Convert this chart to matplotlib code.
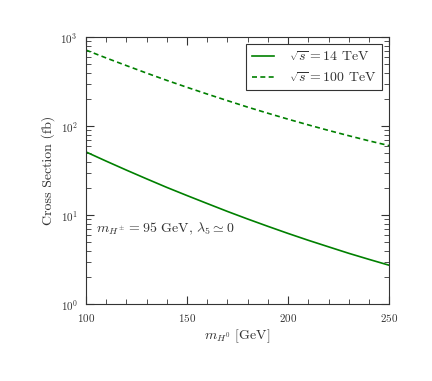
import matplotlib
matplotlib.use('Agg')
import matplotlib.pyplot as plt

# cross sections (fb)
mass = [100, 110, 120, 130, 140, 150, 160, 170, 180, 190, 200, 210, 220, 230, 240, 250]
xsec_14 = [51.4, 40.5, 32.1, 25.6, 20.5, 16.6, 13.5, 11.0, 9.04, 7.48, 6.22, 5.21, 4.40, 3.72, 3.18, 2.73]
xsec_100 = [719, 586, 481, 396, 328, 274, 230, 194, 164, 140, 120, 103.5, 89.7, 78.2, 68.5, 60.5]

plt.rcParams['font.family'] = 'serif'
plt.rcParams['font.serif'] = ['cmr10']
plt.rcParams['mathtext.fontset'] = 'cm'
plt.rcParams['axes.formatter.use_mathtext'] = True
plt.rcParams['axes.unicode_minus'] = False

fig = plt.figure(figsize=(4.32, 3.81), dpi=100)
ax = fig.add_axes([0.199, 0.202, 0.702, 0.700])

ax.plot(mass, xsec_14, color='green', lw=1.2, label=r'$\sqrt{s}=14$ TeV')
ax.plot(mass, xsec_100, color='green', lw=1.2, dashes=[3, 2], label=r'$\sqrt{s}=100$ TeV')

ax.set_yscale('log')
ax.set_xlim(100, 250)
ax.set_ylim(1, 1000)
ax.set_xticks([100, 150, 200, 250])
ax.set_xticks(range(100, 251, 10), minor=True)

ax.tick_params(which='both', direction='in', top=True, right=True, labelsize=8, colors='#333333', pad=6)
ax.tick_params(which='major', length=6, width=0.8)
ax.tick_params(which='minor', length=3.5, width=0.6)
for s in ax.spines.values():
    s.set_color('#333333')

ax.set_xlabel(r'$m_{H^0}$ [GeV]', fontsize=10, color='#333333', labelpad=2)
ax.set_ylabel('Cross Section (fb)', fontsize=10, color='#333333', labelpad=4)

ax.text(0.033, 0.28, r'$m_{H^\pm}=95$ GeV, $\lambda_5\simeq 0$', transform=ax.transAxes,
        fontsize=10, color='#333333', va='center')

leg = ax.legend(loc='upper right', fontsize=10, fancybox=False, edgecolor='#333333',
                framealpha=1, handlelength=1.6, handletextpad=1.1, borderaxespad=0.5)
leg.get_frame().set_linewidth(0.8)
for t in leg.get_texts():
    t.set_color('#333333')

plt.savefig('out.png', dpi=100)
